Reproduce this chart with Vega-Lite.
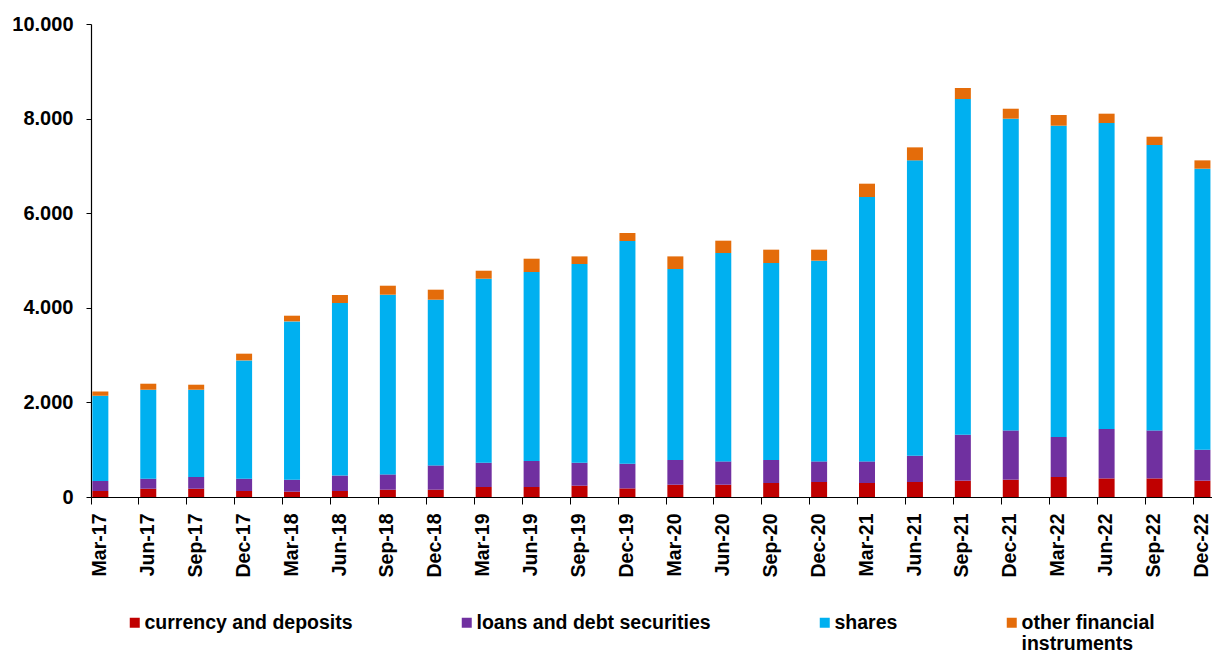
{
  "$schema": "https://vega.github.io/schema/vega-lite/v6.json",
  "autosize": "none",
  "width": 1121,
  "height": 473,
  "padding": {"left": 91, "top": 24, "right": 0, "bottom": 156},
  "background": "white",
  "config": {"view": {"stroke": null}, "font": "Liberation Sans"},
  "data": {"values": [
    {"q":"Mar-17","s":"currency and deposits","k":1,"v":127},{"q":"Mar-17","s":"loans and debt securities","k":2,"v":211},{"q":"Mar-17","s":"shares","k":3,"v":1804},{"q":"Mar-17","s":"other financial instruments","k":4,"v":91},
    {"q":"Jun-17","s":"currency and deposits","k":1,"v":175},{"q":"Jun-17","s":"loans and debt securities","k":2,"v":212},{"q":"Jun-17","s":"shares","k":3,"v":1881},{"q":"Jun-17","s":"other financial instruments","k":4,"v":127},
    {"q":"Sep-17","s":"currency and deposits","k":1,"v":175},{"q":"Sep-17","s":"loans and debt securities","k":2,"v":248},{"q":"Sep-17","s":"shares","k":3,"v":1845},{"q":"Sep-17","s":"other financial instruments","k":4,"v":106},
    {"q":"Dec-17","s":"currency and deposits","k":1,"v":127},{"q":"Dec-17","s":"loans and debt securities","k":2,"v":260},{"q":"Dec-17","s":"shares","k":3,"v":2501},{"q":"Dec-17","s":"other financial instruments","k":4,"v":142},
    {"q":"Mar-18","s":"currency and deposits","k":1,"v":112},{"q":"Mar-18","s":"loans and debt securities","k":2,"v":254},{"q":"Mar-18","s":"shares","k":3,"v":3347},{"q":"Mar-18","s":"other financial instruments","k":4,"v":120},
    {"q":"Jun-18","s":"currency and deposits","k":1,"v":127},{"q":"Jun-18","s":"loans and debt securities","k":2,"v":330},{"q":"Jun-18","s":"shares","k":3,"v":3644},{"q":"Jun-18","s":"other financial instruments","k":4,"v":170},
    {"q":"Sep-18","s":"currency and deposits","k":1,"v":154},{"q":"Sep-18","s":"loans and debt securities","k":2,"v":324},{"q":"Sep-18","s":"shares","k":3,"v":3799},{"q":"Sep-18","s":"other financial instruments","k":4,"v":190},
    {"q":"Dec-18","s":"currency and deposits","k":1,"v":154},{"q":"Dec-18","s":"loans and debt securities","k":2,"v":514},{"q":"Dec-18","s":"shares","k":3,"v":3503},{"q":"Dec-18","s":"other financial instruments","k":4,"v":212},
    {"q":"Mar-19","s":"currency and deposits","k":1,"v":211},{"q":"Mar-19","s":"loans and debt securities","k":2,"v":514},{"q":"Mar-19","s":"shares","k":3,"v":3890},{"q":"Mar-19","s":"other financial instruments","k":4,"v":169},
    {"q":"Jun-19","s":"currency and deposits","k":1,"v":211},{"q":"Jun-19","s":"loans and debt securities","k":2,"v":550},{"q":"Jun-19","s":"shares","k":3,"v":3996},{"q":"Jun-19","s":"other financial instruments","k":4,"v":281},
    {"q":"Sep-19","s":"currency and deposits","k":1,"v":239},{"q":"Sep-19","s":"loans and debt securities","k":2,"v":486},{"q":"Sep-19","s":"shares","k":3,"v":4201},{"q":"Sep-19","s":"other financial instruments","k":4,"v":161},
    {"q":"Dec-19","s":"currency and deposits","k":1,"v":182},{"q":"Dec-19","s":"loans and debt securities","k":2,"v":522},{"q":"Dec-19","s":"shares","k":3,"v":4708},{"q":"Dec-19","s":"other financial instruments","k":4,"v":169},
    {"q":"Mar-20","s":"currency and deposits","k":1,"v":260},{"q":"Mar-20","s":"loans and debt securities","k":2,"v":522},{"q":"Mar-20","s":"shares","k":3,"v":4038},{"q":"Mar-20","s":"other financial instruments","k":4,"v":267},
    {"q":"Jun-20","s":"currency and deposits","k":1,"v":260},{"q":"Jun-20","s":"loans and debt securities","k":2,"v":493},{"q":"Jun-20","s":"shares","k":3,"v":4406},{"q":"Jun-20","s":"other financial instruments","k":4,"v":260},
    {"q":"Sep-20","s":"currency and deposits","k":1,"v":296},{"q":"Sep-20","s":"loans and debt securities","k":2,"v":486},{"q":"Sep-20","s":"shares","k":3,"v":4165},{"q":"Sep-20","s":"other financial instruments","k":4,"v":282},
    {"q":"Dec-20","s":"currency and deposits","k":1,"v":317},{"q":"Dec-20","s":"loans and debt securities","k":2,"v":436},{"q":"Dec-20","s":"shares","k":3,"v":4243},{"q":"Dec-20","s":"other financial instruments","k":4,"v":233},
    {"q":"Mar-21","s":"currency and deposits","k":1,"v":296},{"q":"Mar-21","s":"loans and debt securities","k":2,"v":457},{"q":"Mar-21","s":"shares","k":3,"v":5589},{"q":"Mar-21","s":"other financial instruments","k":4,"v":282},
    {"q":"Jun-21","s":"currency and deposits","k":1,"v":317},{"q":"Jun-21","s":"loans and debt securities","k":2,"v":556},{"q":"Jun-21","s":"shares","k":3,"v":6244},{"q":"Jun-21","s":"other financial instruments","k":4,"v":275},
    {"q":"Sep-21","s":"currency and deposits","k":1,"v":345},{"q":"Sep-21","s":"loans and debt securities","k":2,"v":972},{"q":"Sep-21","s":"shares","k":3,"v":7097},{"q":"Sep-21","s":"other financial instruments","k":4,"v":233},
    {"q":"Dec-21","s":"currency and deposits","k":1,"v":366},{"q":"Dec-21","s":"loans and debt securities","k":2,"v":1042},{"q":"Dec-21","s":"shares","k":3,"v":6590},{"q":"Dec-21","s":"other financial instruments","k":4,"v":211},
    {"q":"Mar-22","s":"currency and deposits","k":1,"v":423},{"q":"Mar-22","s":"loans and debt securities","k":2,"v":845},{"q":"Mar-22","s":"shares","k":3,"v":6582},{"q":"Mar-22","s":"other financial instruments","k":4,"v":226},
    {"q":"Jun-22","s":"currency and deposits","k":1,"v":393},{"q":"Jun-22","s":"loans and debt securities","k":2,"v":1045},{"q":"Jun-22","s":"shares","k":3,"v":6469},{"q":"Jun-22","s":"other financial instruments","k":4,"v":197},
    {"q":"Sep-22","s":"currency and deposits","k":1,"v":393},{"q":"Sep-22","s":"loans and debt securities","k":2,"v":1015},{"q":"Sep-22","s":"shares","k":3,"v":6034},{"q":"Sep-22","s":"other financial instruments","k":4,"v":175},
    {"q":"Dec-22","s":"currency and deposits","k":1,"v":345},{"q":"Dec-22","s":"loans and debt securities","k":2,"v":655},{"q":"Dec-22","s":"shares","k":3,"v":5941},{"q":"Dec-22","s":"other financial instruments","k":4,"v":176}
  ]},
  "mark": {"type": "bar", "width": 16, "xOffset": -14.6},
  "encoding": {
    "x": {
      "field": "q", "type": "nominal", "sort": null, "title": null,
      "scale": {"range": [0, 1150], "paddingInner": 0, "paddingOuter": 0},
      "axis": {
        "bandPosition": 0, "labelAngle": -90, "labelOffset": -15,
        "labelFont": "Liberation Sans", "labelFontWeight": "bold", "labelFontSize": 19.5, "labelColor": "black",
        "labelPadding": 9, "tickSize": 7, "tickColor": "black", "domainColor": "black", "domainWidth": 1.2,
        "grid": false, "labelOverlap": false, "labelBound": false
      }
    },
    "y": {
      "field": "v", "type": "quantitative", "stack": "zero", "title": null,
      "scale": {"domain": [0, 10000], "nice": false},
      "axis": {
        "values": [0, 2000, 4000, 6000, 8000, 10000],
        "labelExpr": "replace(format(datum.value, ','), ',', '.')",
        "labelFont": "Liberation Sans", "labelFontWeight": "bold", "labelFontSize": 20, "labelColor": "black",
        "labelPadding": 13, "tickSize": 5, "tickColor": "black", "domainColor": "black", "domainWidth": 1.2,
        "grid": false
      }
    },
    "color": {
      "field": "s", "type": "nominal", "title": null,
      "scale": {
        "domain": ["currency and deposits", "loans and debt securities", "shares", "other financial instruments"],
        "range": ["#C00000", "#7030A0", "#00B0F0", "#E46C0A"]
      },
      "legend": {
        "orient": "none", "legendX": 34, "legendY": 589, "direction": "horizontal", "columns": 4,
        "gridAlign": "none", "columnPadding": 104, "symbolType": "square", "symbolSize": 100,
        "symbolStrokeWidth": 0, "labelOffset": 0,
        "labelFont": "Liberation Sans", "labelFontWeight": "bold", "labelFontSize": 19.5, "labelColor": "black",
        "labelLimit": 400,
        "labelExpr": "datum.label == 'other financial instruments' ? ['other financial', 'instruments'] : datum.label"
      }
    },
    "order": {"field": "k", "type": "quantitative"}
  }
}
